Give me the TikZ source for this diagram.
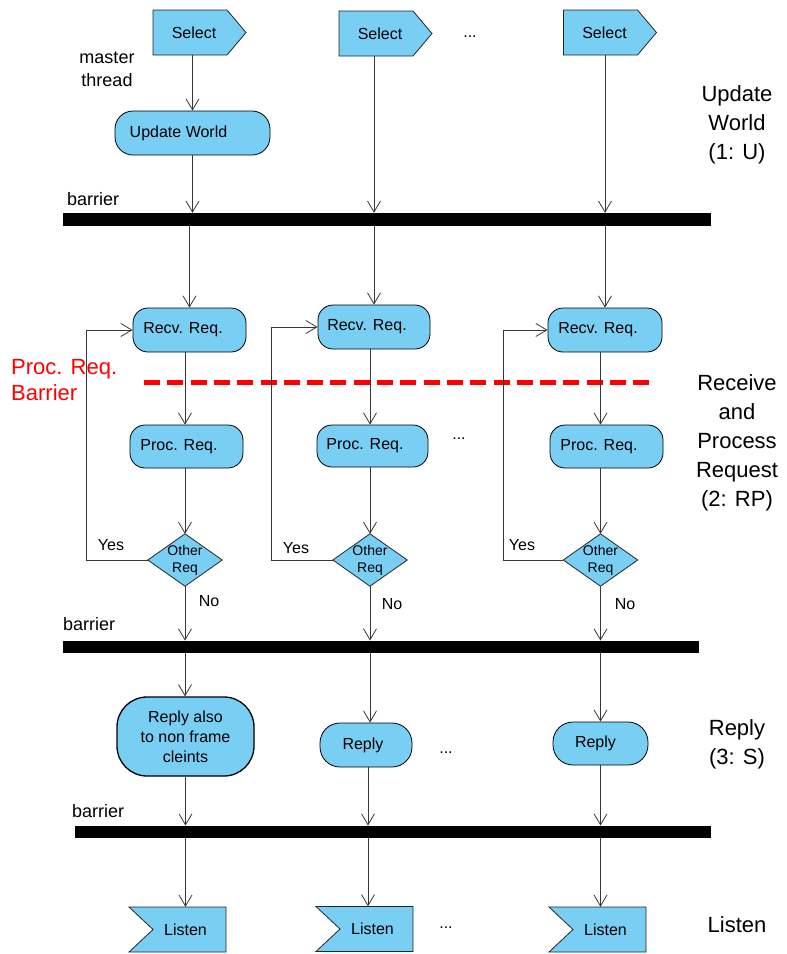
\documentclass[tikz,border=0pt]{standalone}
\usepackage{fontspec}
\setmainfont{Liberation Sans}
\usetikzlibrary{arrows.meta,calc}
\pgfdeclarelayer{background}
\pgfsetlayers{background,main}
\definecolor{boxblue}{RGB}{121,206,244}
\definecolor{linegray}{RGB}{55,55,55}

\begin{document}
\begin{tikzpicture}[x=1pt,y=-1pt,
  every node/.style={font=\fontsize{16}{19}\selectfont, inner sep=0pt},
  roundbox/.style={draw=black, line width=0.8pt, fill=boxblue, rounded corners=#1},
  roundbox/.default=16pt,
  textleft/.style={execute at begin node={\kern-#1}, execute at end node={\kern#1}},
  textonly/.style={minimum height=45pt},
  decision/.style={minimum width=74pt, minimum height=52pt, align=center,
    font=\fontsize{14}{17}\selectfont},
  outline/.style={draw=black!85, line width=0.8pt, fill=boxblue},
  barrierbar/.style={fill=black, minimum height=#1},
  barrierbar/.default=12.5pt,
  flow/.style={draw=linegray, line width=0.8pt, -{Straight Barb[length=11pt,width=13pt]}},
  phase/.style={font=\fontsize{22}{29}\selectfont, align=center},
  smalllabel/.style={font=\fontsize{18}{23}\selectfont, align=center},
  answer/.style={font=\fontsize{16}{19}\selectfont},
]
\useasboundingbox (0,0) rectangle (787,954);

% ---------- top: select and update world ----------
\node[textonly] (s1) at (194,32.5) {Select};
\node[textonly] (s2) at (380,33.5) {Select};
\node[textonly] (s3) at (604.5,32.5) {Select};
\node at (470,37) {...};

\node[roundbox=18pt, minimum width=155pt, minimum height=44pt, textleft=14pt] (u1) at (192.5,133) {Update World};

\node[smalllabel] (master) at (107,69.5) {master\\thread};

\node[barrierbar=13pt, minimum width=648pt] (bar1) at (387,219.5) {};
\node[smalllabel, anchor=west] at (67,199) {barrier};

% ---------- receive and process ----------
\node[roundbox=15pt, minimum width=113pt, minimum height=44pt, textleft=6.5pt] (r1) at (189.5,330) {Recv. Req.};
\node[roundbox=15pt, minimum width=112pt, minimum height=44pt, textleft=7pt] (r2) at (374,327) {Recv. Req.};
\node[roundbox=15pt, minimum width=114pt, minimum height=44pt, textleft=7pt] (r3) at (605,330) {Recv. Req.};

\node[roundbox=15pt, minimum width=113pt, minimum height=43pt, textleft=7.5pt] (p1) at (186.5,446.5) {Proc. Req.};
\node[roundbox=15pt, minimum width=111pt, minimum height=42pt, textleft=7.5pt] (p2) at (372.5,446) {Proc. Req.};
\node[roundbox=15pt, minimum width=113pt, minimum height=43pt, textleft=7.5pt] (p3) at (606.5,446.5) {Proc. Req.};
\node at (459,439) {...};

\node[decision] (d1) at (185,560) {Other\\Req};
\node[decision] (d2) at (370,560) {Other\\Req};
\node[decision] (d3) at (600.5,560) {Other\\Req};

\node[answer] at (111,545) {Yes};
\node[answer] at (296,548) {Yes};
\node[answer] at (522,545) {Yes};
\node[answer] at (209,601) {No};
\node[answer] at (392,604) {No};
\node[answer] at (625,604) {No};

\node[font=\fontsize{22}{26}\selectfont, text=red, align=left, anchor=west] (prb) at (11,380) {Proc. Req.\\Barrier};

\node[barrierbar=12.5pt, minimum width=636pt] (bar2) at (381,647) {};
\node[smalllabel, anchor=west] at (63,624) {barrier};

% ---------- reply ----------
\node[roundbox=30pt, line width=1.3pt, minimum width=137pt, minimum height=79pt, align=center,
  font=\fontsize{16}{20}\selectfont] (ra1) at (185.5,736.5) {Reply also\\to non frame\\cleints};
\node[roundbox=20pt, minimum width=92pt, minimum height=44pt, textleft=3pt] (rp2) at (366,745) {Reply};
\node[roundbox=20pt, minimum width=95pt, minimum height=43pt, textleft=5pt] (rp3) at (600.5,743.5) {Reply};
\node at (446,753) {...};

\node[barrierbar=12.5pt, minimum width=636pt] (bar3) at (393,832) {};
\node[smalllabel, anchor=west] at (72,811) {barrier};

% ---------- listen ----------
\node[textonly] (l1) at (185.5,929.5) {Listen};
\node[textonly] (l2) at (372.5,929) {Listen};
\node[textonly] (l3) at (605.5,929.5) {Listen};
\node at (446,928) {...};

% ---------- phase names ----------
\node[phase] at (737,125) {Update\\World\\(1: U)};
\node[phase] at (737,443) {Receive\\and\\Process\\Request\\(2: RP)};
\node[phase] at (737,744) {Reply\\(3: S)};
\node[phase] at (737,925) {Listen};

% ---------- outlines of the signal and decision shapes ----------
\begin{pgfonlayer}{background}
  \foreach \n in {s1,s2,s3}
    \filldraw[outline] ($(\n)+(-41,-22.5)$) -- ($(\n)+(33,-22.5)$) -- ($(\n)+(52,0)$)
      -- ($(\n)+(33,22.5)$) -- ($(\n)+(-41,22.5)$) -- cycle;
  \foreach \n in {l1,l2,l3}
    \filldraw[outline] ($(\n)+(-56.5,-22.5)$) -- ($(\n)+(40.5,-22.5)$) -- ($(\n)+(40.5,22.5)$)
      -- ($(\n)+(-56.5,22.5)$) -- ($(\n)+(-32.5,0)$) -- cycle;
  \foreach \n in {d1,d2,d3}
    \filldraw[outline] (\n.north) -- (\n.east) -- (\n.south) -- (\n.west) -- cycle;
\end{pgfonlayer}

% ---------- processing barrier ----------
\draw[red, line width=5pt, dash pattern=on 16pt off 7.3pt] (144,382) -- (650,382);

% ---------- connectors ----------
\draw[flow] (u1 |- s1.south) -- (u1.north);
\draw[flow] (r2 |- s2.south) -- (r2 |- bar1.north);
\draw[flow] (r3 |- s3.south) -- (r3 |- bar1.north);
\draw[flow] (u1.south) -- (u1 |- bar1.north);

\foreach \c in {1,2,3}{
  \draw[flow] (r\c |- bar1.south) -- (r\c.north);
  \draw[flow] (d\c |- r\c.south) -- (d\c |- p\c.north);
  \draw[flow] (d\c |- p\c.south) -- (d\c.north);
  \draw[flow] (d\c.south) -- (d\c |- bar2.north);
}
\draw[flow] (d1.west) -- ++(-61,0) |- (r1.west);
\draw[flow] (d2.west) -- ++(-61,0) |- (r2.west);
\draw[flow] (d3.west) -- ++(-60,0) |- (r3.west);

\draw[flow] (d1 |- bar2.south) -- (d1 |- ra1.north);
\draw[flow] (d2 |- bar2.south) -- (d2 |- rp2.north);
\draw[flow] (d3 |- bar2.south) -- (d3 |- rp3.north);

\draw[flow] (ra1.south) -- (ra1 |- bar3.north);
\draw[flow] ([xshift=2pt]rp2.south) -- ([xshift=2pt]rp2.south |- bar3.north);
\draw[flow] (rp3.south) -- (rp3 |- bar3.north);

\draw[flow] (ra1 |- bar3.south) -- (ra1 |- l1.north);
\draw[flow] ([xshift=2pt]rp2 |- bar3.south) -- ([xshift=2pt]rp2 |- l2.north);
\draw[flow] (rp3 |- bar3.south) -- (rp3 |- l3.north);
\end{tikzpicture}
\end{document}
